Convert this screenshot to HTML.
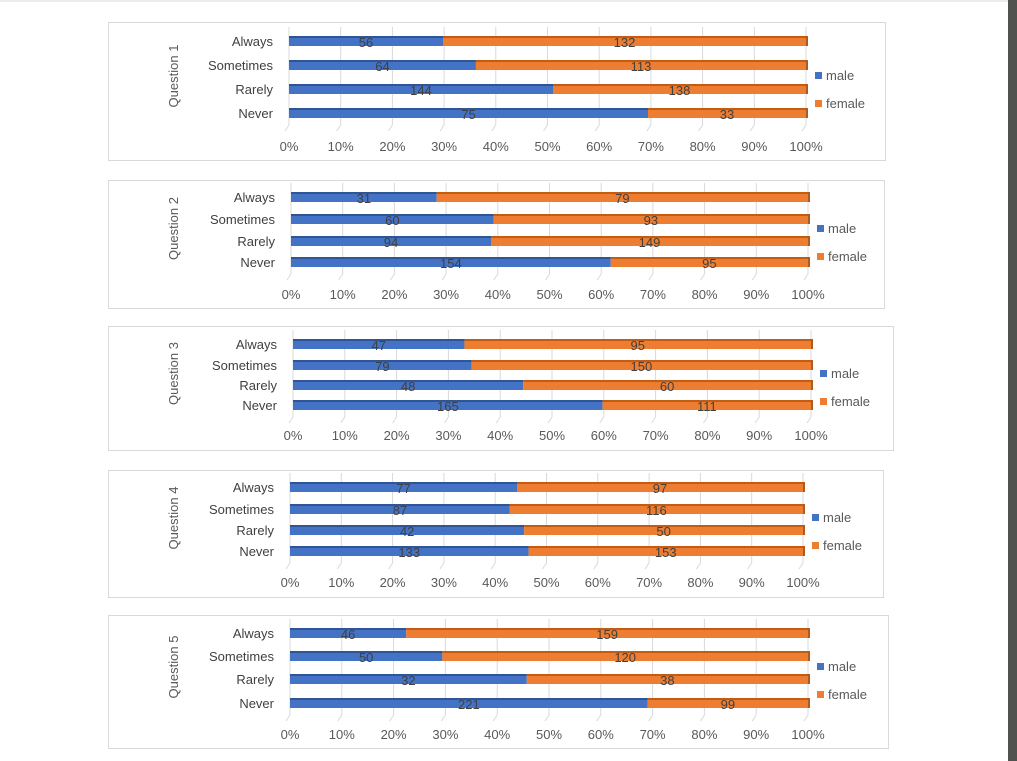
<!DOCTYPE html>
<html><head><meta charset="utf-8"><style>
body{margin:0;width:1017px;height:761px;background:#fff;overflow:hidden;position:relative;font-family:"Liberation Sans",sans-serif}
svg{position:absolute;left:0;top:0}
</style></head><body>
<div style="position:absolute;left:0;top:0;width:1017px;height:2px;background:#ececec"></div>
<div style="position:absolute;left:1008px;top:0;width:9px;height:761px;background:#505250"></div>
<svg id="s" width="1017" height="761"></svg>
<script>
const categories=["Always","Sometimes","Rarely","Never"];
const questions=["Question 1","Question 2","Question 3","Question 4","Question 5"];
const male=[[56,64,144,75],[31,60,94,154],[47,79,48,165],[77,87,42,133],[46,50,32,221]];
const female=[[132,113,138,33],[79,93,149,95],[95,150,60,111],[97,116,50,153],[159,120,38,99]];
const ticks=["0%","10%","20%","30%","40%","50%","60%","70%","80%","90%","100%"];
const layout=[
 {bx:108,by:22,bw:777,bh:138,x0:289,x1:806,ys:[41,65,89,113],ty:146,ly:[76,104]},
 {bx:108,by:180,bw:776,bh:128,x0:291,x1:808,ys:[197,219,241,262],ty:294,ly:[229,257]},
 {bx:108,by:326,bw:785,bh:124,x0:293,x1:811,ys:[344,365,385,405],ty:435,ly:[374,402]},
 {bx:108,by:470,bw:775,bh:127,x0:290,x1:803,ys:[487,509,530,551],ty:582,ly:[518,546]},
 {bx:108,by:615,bw:780,bh:133,x0:290,x1:808,ys:[633,656,679,703],ty:734,ly:[667,695]}];
const s=document.getElementById('s');const NS='http://www.w3.org/2000/svg';
function mk(t,a,txt){const e=document.createElementNS(NS,t);for(const k in a)e.setAttribute(k,a[k]);if(txt!=null)e.textContent=txt;s.appendChild(e);return e;}
layout.forEach((L,q)=>{
 const b=mk('rect',{x:L.bx+.5,y:L.by+.5,width:L.bw,height:L.bh,fill:'#fff',stroke:'#d9d9d9'});
 
 const X=p=>L.x0+(L.x1-L.x0)*p;
 const top=L.ys[0]-14,bot=L.ys[3]+12;
 ticks.forEach((t,i)=>{const x=X(i/10);
  const g=mk('path',{d:`M${x} ${bot} L${x} ${top} M${x} ${bot} L${x-4} ${bot+6}`,stroke:'#d9d9d9',fill:'none'});
  
  const tl=mk('text',{x:x,y:L.ty+5,'text-anchor':'middle','font-size':13,fill:'#595959'},t);
  });
 const yt=mk('text',{x:0,y:0,transform:`translate(${178},${(top+bot)/2}) rotate(-90)`,'text-anchor':'middle','font-size':13,fill:'#595959'},questions[q]);
 
 categories.forEach((c,i)=>{const y=L.ys[i];const m=male[q][i],f=female[q][i],p=m/(m+f);
  const cl=mk('text',{x:L.x0-16,y:y+5,'text-anchor':'end','font-size':13,fill:'#404040'},c);
  
  const h=10,yy=y-h/2,xm=X(p);
  const r1=mk('rect',{x:X(0),y:yy,width:xm-X(0),height:h,fill:'#4472c4'});
  
  mk('rect',{x:X(0),y:yy,width:xm-X(0),height:2,fill:'#2f5597'});
  const r2=mk('rect',{x:xm,y:yy,width:X(1)-xm,height:h,fill:'#ed7d31'});
  
  mk('rect',{x:xm,y:yy,width:X(1)-xm,height:2,fill:'#c55a11'});
  mk('rect',{x:X(1),y:yy,width:2,height:h,fill:'#ae5a21'});
  const v1=mk('text',{x:(X(0)+xm)/2,y:y+6,'text-anchor':'middle','font-size':13,fill:'#404040'},m);
  
  const v2=mk('text',{x:(xm+X(1))/2,y:y+6,'text-anchor':'middle','font-size':13,fill:'#404040'},f);
  });
 [['male','#4472c4'],['female','#ed7d31']].forEach((e,i)=>{const y=L.ly[i];const lx=L.x1+9;
  const k=mk('rect',{x:lx,y:y-4,width:7,height:7,fill:e[1]});
  
  const t=mk('text',{x:lx+11,y:y+4,'font-size':13,fill:'#595959'},e[0]);
  });
});
</script></body></html>
